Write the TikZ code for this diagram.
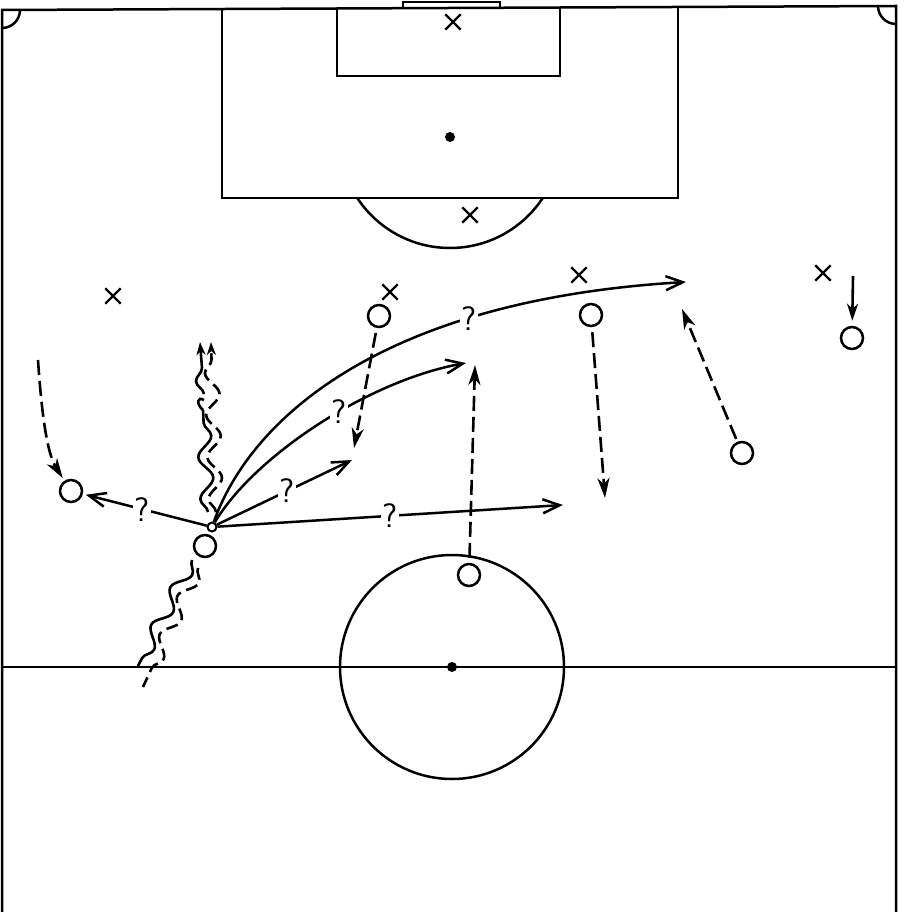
\documentclass[tikz,border=0pt]{standalone}
\usetikzlibrary{arrows.meta,decorations.pathmorphing,shapes.misc}
\begin{document}
\begin{tikzpicture}[x=1pt,y=-1pt,
  field/.style={line width=2.5pt},
  player/.style={circle,draw,line width=2.5pt,minimum size=22pt,inner sep=0pt},
  ballnode/.style={circle,draw,line width=2pt,minimum size=9pt,inner sep=0pt},
  opp/.style={cross out,draw,line width=2.4pt,minimum size=13pt,inner sep=0pt},
  pass/.style={line width=2.5pt,-{Straight Barb[length=17pt,width=14pt,line width=2.5pt]}},
  runline/.style={line width=2.6pt,dash pattern=on 15pt off 6pt,-{Stealth[length=20pt,width=12pt,inset=6pt]}},
  dashrun/.style={dash pattern=on 12pt off 6pt},
  qm/.style={fill=white,inner sep=1.5pt,font=\fontsize{34}{34}\sffamily},
  dribble/.style={decorate,decoration={snake,amplitude=7pt,segment length=42pt,post length=6pt},line width=2.6pt},
  tipsmall/.style={-{Stealth[length=13pt,width=9pt,inset=4pt]}}
]
\useasboundingbox (0,0) rectangle (905,912);
% field
\draw[field] (2,912) -- (2,10) -- (896,6) -- (896,912);
\draw[field] (222,8.5) -- (222,198) -- (678,198) -- (678,7);
\draw[field] (337,8) -- (337,76) -- (560,76) -- (560,7.5);
\draw[field] (403,7.5) -- (403,2) -- (500,2) -- (500,7);
\draw[field] (20,10) .. controls (20,19.9) and (11.9,28) .. (2,28);
\draw[field] (878,6) .. controls (878,15.9) and (886.1,24) .. (896,24);
\begin{scope}
  \clip (300,198) rectangle (600,300);
  \draw[field] (450,137) circle[radius=111pt];
\end{scope}
\draw[field] (2,667) -- (896,667);
\draw[field] (452,667) circle[radius=112pt];
\fill (452,667) circle[radius=5pt];
\fill (450,137) circle[radius=5pt];
% opponents
\node[opp] (x1) at (453,22) {};
\node[opp] (x2) at (470,215) {};
\node[opp] (x3) at (113,296) {};
\node[opp] (x4) at (390,292) {};
\node[opp] (x5) at (579,275) {};
\node[opp] (x6) at (823,273) {};
% players
\node[player] (pl) at (71,491) {};
\node[player] (pb) at (205,546) {};
\node[player] (p3) at (379,316) {};
\node[player] (p4) at (591,315) {};
\node[player] (p5) at (852,338) {};
\node[player] (p6) at (742,453) {};
\node[player] (p7) at (469,575) {};
\node[ballnode] (ball) at (212,527) {};
% target coordinates
\coordinate (t6) at (686,282);
\coordinate (t5) at (466,363);
\coordinate (t3) at (352,460);
\coordinate (t4) at (563,505);
\coordinate (r7) at (354,448);
\coordinate (r8) at (475,365);
\coordinate (r9) at (605,498);
\coordinate (r10) at (682,309);
\coordinate (s1) at (38,360);
\coordinate (s11) at (853,276);
\coordinate (d1a) at (192,560);
\coordinate (d1b) at (138,666);
\coordinate (d2a) at (198,568);
\coordinate (d2b) at (143,687);
\coordinate (u1a) at (208,512);
\coordinate (u1b) at (203,410);
\coordinate (u1c) at (204,394);
\coordinate (u1d) at (200,342);
\coordinate (u2a) at (216,512);
\coordinate (u2b) at (211,342);
% passes
\draw[pass] (ball) .. controls (250,420) and (380,300) .. node[qm,pos=0.72] (q6) {?} (t6);
\draw[pass] (ball) .. controls (255,455) and (370,380) .. node[qm,pos=0.57] (q5) {?} (t5);
\draw[pass] (ball) -- node[qm,pos=0.52] (q3) {?} (t3);
\draw[pass] (ball) -- node[qm,pos=0.5] (q4) {?} (t4);
\draw[pass,shorten >=3pt] (ball) -- node[qm,pos=0.52] (q2) {?} (pl);
% runs
\draw[runline,shorten >=3pt] (s1) .. controls (42,420) and (48,455) .. (pl);
\draw[runline,shorten <=5pt] (p3) -- (r7);
\draw[runline,shorten <=5pt] (p7) -- (r8);
\draw[runline,shorten <=5pt] (p4) -- (r9);
\draw[runline,shorten <=3pt] (p6) -- (r10);
\draw[line width=2.6pt,-{Stealth[length=17pt,width=11pt,inset=5pt]},shorten >=5pt] (s11) -- (p5);
% dribbles
\draw[dribble] (d1a) -- (d1b);
\draw[dribble,dashrun] (d2a) -- (d2b);
\draw[dribble] (u1a) -- (u1b);
\draw[line width=2.6pt] (u1b) .. controls (196,404) and (197,396) .. (204,400);
\draw[dribble,tipsmall] (u1c) -- (u1d);
\draw[dribble,dashrun,tipsmall] (u2a) -- (u2b);
\end{tikzpicture}
\end{document}
